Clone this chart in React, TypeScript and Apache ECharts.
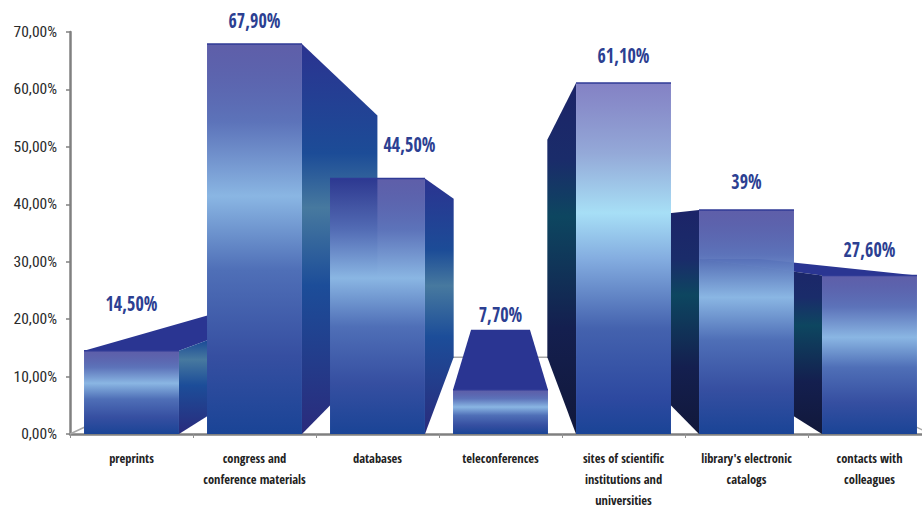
import React, { useEffect, useRef } from "react";
import * as echarts from "echarts";

const categories = [
  "preprints",
  "congress and\nconference materials",
  "databases",
  "teleconferences",
  "sites of scientific\ninstitutions and\nuniversities",
  "library's electronic\ncatalogs",
  "contacts with\ncolleagues",
];
const values = [14.5, 67.9, 44.5, 7.7, 61.1, 39, 27.6];
const valueLabels = ["14,50%", "67,90%", "44,50%", "7,70%", "61,10%", "39%", "27,60%"];
const labelGaps = [48, 24, 35, 76, 28, 29, 27];
const labelShifts = [0, 0, 32, 0, 0, 0, 0];
const drawOrder = [0, 1, 2, 6, 5, 4, 3];
const yTicks = { min: 0, max: 70, interval: 10 };

const vanishCategory = 3;
const vanishValue = 35.2;
const depthScale = 0.62;
const barRatio = 0.772;
const condensed = "'Open Sans Condensed', 'Roboto Condensed', sans-serif";

const grad = (stops: [number, string][]) =>
  new echarts.graphic.LinearGradient(0, 0, 0, 1, stops.map(([offset, color]) => ({ offset, color })));

const frontStops: [number, string][] = [
  [0, "rgba(44,44,142,0.76)"],
  [0.2, "rgba(84,108,182,0.95)"],
  [0.39, "#8ab6e3"],
  [0.58, "#4f6fb7"],
  [0.8, "#364fa1"],
  [1, "#1a4496"],
];
const brightStops: [number, string][] = [
  [0, "rgba(118,116,190,0.9)"],
  [0.2, "#94a9d8"],
  [0.37, "#a7dff6"],
  [0.5, "#84ade0"],
  [0.7, "#4462ae"],
  [0.9, "#2d49a0"],
  [1, "#1a4496"],
];
const rightStops: [number, string][] = [
  [0, "#2b3390"],
  [0.28, "#1c4c97"],
  [0.42, "#47799f"],
  [0.62, "#1c4d99"],
  [1, "#2a2b7c"],
];
const leftStops: [number, string][] = [
  [0, "#1c2468"],
  [0.22, "#1a2c6a"],
  [0.38, "#0d4660"],
  [0.7, "#141f4f"],
  [1, "#11183a"],
];

function renderFloor(_: any, api: any) {
  const band = api.size([1, 0])[0];
  const first = api.coord([0, 0]);
  const v = api.coord([vanishCategory, vanishValue]);
  const back = (x: number, y: number) => [v[0] + (x - v[0]) * depthScale, v[1] + (y - v[1]) * depthScale];
  const l = first[0] - band / 2;
  const r = l + band * categories.length;
  return {
    type: "polyline",
    shape: { points: [[l, first[1]], back(l, first[1]), back(r, first[1]), [r, first[1]]] },
    style: { fill: "none", stroke: "#a8a8a8", lineWidth: 1.5 },
  };
}

function renderBar(params: any, api: any) {
  const cat = api.value(0);
  const val = api.value(1);
  const band = api.size([1, 0])[0];
  const half = (band * barRatio) / 2;
  const top = api.coord([cat, val]);
  const base = api.coord([cat, 0]);
  const v = api.coord([vanishCategory, vanishValue]);
  const back = (x: number, y: number) => [v[0] + (x - v[0]) * depthScale, v[1] + (y - v[1]) * depthScale];
  const l = top[0] - half;
  const r = top[0] + half;
  const t = top[1];
  const b = base[1];
  const children: any[] = [];
  if (t > v[1]) {
    children.push({
      type: "polygon",
      shape: { points: [[l, t], [r, t], back(r, t), back(l, t)] },
      style: { fill: "#2a3592" },
    });
  }
  if (r < v[0]) {
    children.push({
      type: "polygon",
      shape: { points: [[r, t], back(r, t), back(r, b), [r, b]] },
      style: { fill: grad(rightStops) },
    });
  }
  if (l > v[0]) {
    children.push({
      type: "polygon",
      shape: { points: [[l, t], back(l, t), back(l, b), [l, b]] },
      style: { fill: grad(leftStops) },
    });
  }
  children.push({
    type: "rect",
    shape: { x: l, y: t, width: r - l, height: b - t },
    style: { fill: grad(cat === 4 ? brightStops : frontStops) },
  });
  children.push({
    type: "line",
    shape: { x1: l, y1: t, x2: r, y2: t },
    style: { stroke: "#2f3a96", lineWidth: 1.5 },
  });
  children.push({
    type: "text",
    x: top[0] + labelShifts[cat],
    y: t - labelGaps[cat],
    scaleX: 0.82,
    style: {
      x: 0,
      y: 0,
      text: valueLabels[cat],
      fill: "#2c3f92",
      font: `bold 22px ${condensed}`,
      align: "center",
      verticalAlign: "middle",
    },
  });
  return { type: "group", children };
}

export default function App() {
  const ref = useRef<HTMLDivElement>(null);
  useEffect(() => {
    const chart = echarts.init(ref.current!, undefined, { renderer: "svg" });
    chart.setOption({
      animation: false,
      backgroundColor: "#ffffff",
      grid: { left: 70, top: 32, width: 861, height: 402, containLabel: false, outerBoundsMode: "none" },
      xAxis: {
        type: "category",
        data: categories,
        boundaryGap: true,
        axisLine: { lineStyle: { color: "#808080", width: 2.5 } },
        axisTick: { show: true, alignWithLabel: false, length: 4, lineStyle: { color: "#909090", width: 1 } },
        axisLabel: {
          interval: 0,
          margin: 14,
          color: "#222222",
          fontFamily: condensed,
          fontWeight: "bold",
          fontSize: 12.5,
          lineHeight: 21,
          verticalAlign: "top",
          hideOverlap: false,
        },
      },
      yAxis: {
        type: "value",
        min: yTicks.min,
        max: yTicks.max,
        interval: yTicks.interval,
        splitLine: { show: false },
        axisLine: { show: true, lineStyle: { color: "#808080", width: 2.5 } },
        axisTick: { show: true, length: 4, lineStyle: { color: "#808080", width: 1.5 } },
        axisLabel: {
          margin: 13,
          color: "#2a2a2a",
          fontFamily: "'Roboto Condensed', sans-serif",
          fontSize: 15.5,
          formatter: (val: number) => `${val.toFixed(2).replace(".", ",")}%`,
        },
      },
      series: [
        { type: "custom", coordinateSystem: "cartesian2d", renderItem: renderFloor, data: [[0, 0]], z: 1, silent: true },
        {
          type: "custom",
          coordinateSystem: "cartesian2d",
          renderItem: renderBar,
          data: drawOrder.map((i) => [i, values[i]]),
          encode: { x: 0, y: 1 },
          z: 3,
          silent: true,
        },
      ],
    });
    return () => chart.dispose();
  }, []);
  return <div ref={ref} style={{ position: "absolute", left: 0, top: 0, width: 922, height: 511 }} />;
}
